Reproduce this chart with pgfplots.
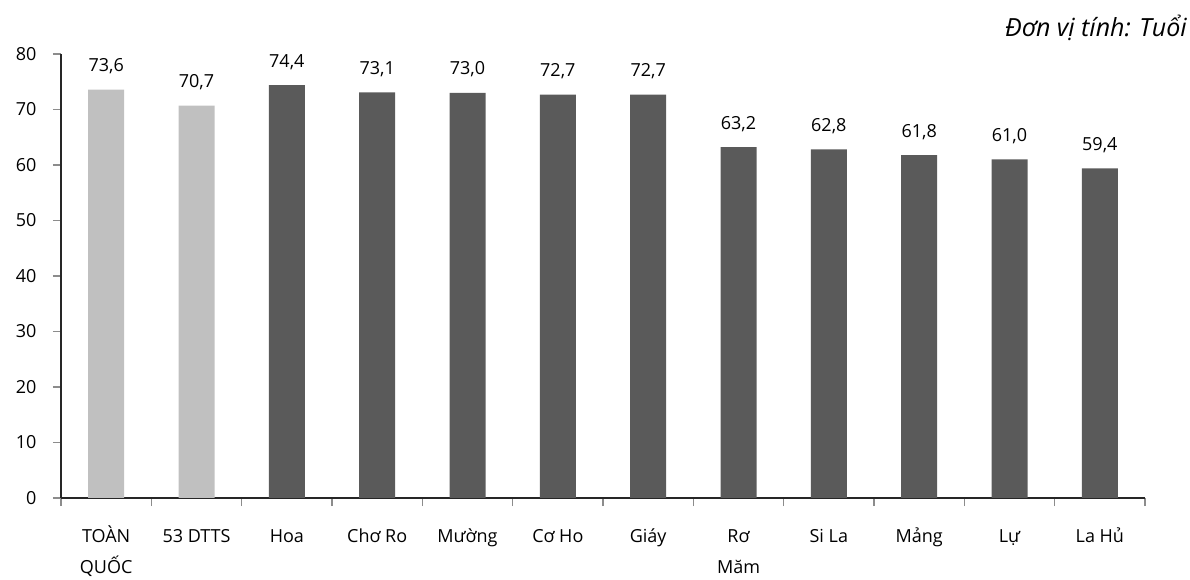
\documentclass[border=0pt]{standalone}
\usepackage{pgfplots}
\pgfplotsset{compat=1.18}
\usepackage{fontspec}
\setmainfont{Open Sans}
\definecolor{barlight}{HTML}{C0C0C0}
\definecolor{bardark}{HTML}{5A5A5A}
\definecolor{axisdark}{HTML}{262626}
\definecolor{tickgray}{HTML}{8C8C8C}
% two-line centred label whose baseline is that of its first line
\newcommand\twoline[2]{\vtop{\baselineskip=31pt\halign{\hfil##\hfil\cr #1\cr #2\cr}}}
\begin{document}
\begin{tikzpicture}[font=\fontsize{18}{26}\selectfont]
\begin{axis}[
  name=ax,
  at={(0,0)}, anchor=south west,
  scale only axis,
  width=1084pt, height=444pt,
  xmin=-0.5, xmax=11.5,
  ymin=0, ymax=80,
  axis lines=left,
  axis line style={-, draw=axisdark, line width=1.5pt},
  ytick={0,10,...,80},
  tick align=outside,
  major tick length=8pt,
  tick style={draw=tickgray, line width=1.2pt},
  xtick={-0.5,0.5,...,11.5},
  xticklabels={},
  extra x ticks={0,1,...,11},
  extra x tick labels={\twoline{TOÀN}{QUỐC},53 DTTS,Hoa,Chơ Ro,Mường,Cơ Ho,Giáy,\twoline{Rơ}{Măm},Si La,Mảng,Lự,La Hủ},
  extra x tick style={major tick length=0pt,
    xticklabel style={anchor=base, yshift=-44pt}},
  yticklabel style={anchor=east, xshift=-13pt},
  /pgf/number format/assume math mode=true,
  ybar, bar width=36pt, bar shift=0pt,
  nodes near coords,
  every node near coord/.append style={
    /pgf/number format/fixed,
    /pgf/number format/fixed zerofill,
    /pgf/number format/precision=1,
    /pgf/number format/use comma,
    anchor=base, yshift=18pt, font=\fontsize{18}{26}\selectfont},
  clip=false,
]
\addplot[fill=barlight, draw=none] coordinates {(0,73.6) (1,70.7)};
\addplot[fill=bardark, draw=none] coordinates {
  (2,74.4) (3,73.1) (4,73.0) (5,72.7) (6,72.7) (7,63.2)
  (8,62.8) (9,61.8) (10,61.0) (11,59.4)};
\node[anchor=base east, font=\fontsize{25}{30}\selectfont\itshape, inner sep=0pt]
  at ([xshift=42pt, yshift=17pt]rel axis cs:1,1) {Đơn vị tính: Tuổi};
\end{axis}
\path[use as bounding box] ([xshift=-61pt, yshift=-70pt]ax.south west)
  rectangle ([xshift=45pt, yshift=54pt]ax.north east);
\end{tikzpicture}
\end{document}
